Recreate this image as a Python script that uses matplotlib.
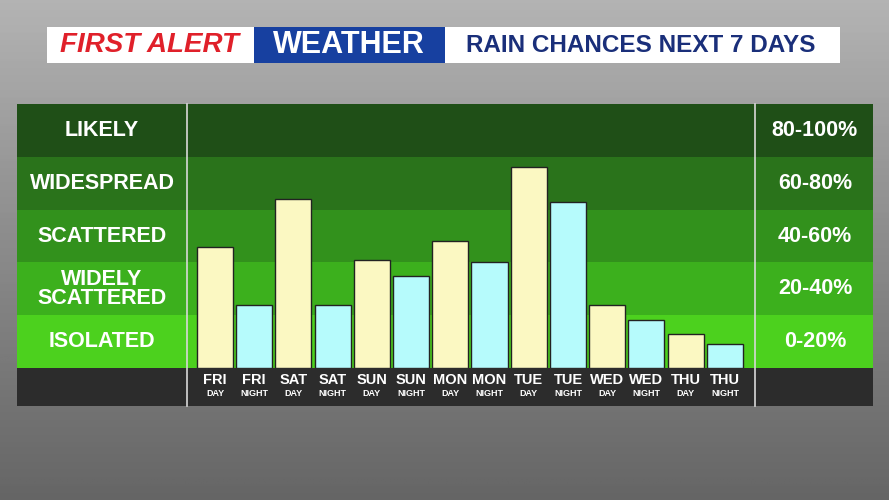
import matplotlib.pyplot as plt
import matplotlib.patches as patches
import numpy as np

plt.rcParams['font.family'] = ['Liberation Sans', 'DejaVu Sans']

days = ['FRI', 'FRI', 'SAT', 'SAT', 'SUN', 'SUN', 'MON', 'MON', 'TUE', 'TUE', 'WED', 'WED', 'THU', 'THU']
parts = ['DAY', 'NIGHT'] * 7
chances = [46, 24, 64, 24, 41, 35, 48, 40, 76, 63, 24, 18, 13, 9]
bands = ['ISOLATED', 'WIDELY\nSCATTERED', 'SCATTERED', 'WIDESPREAD', 'LIKELY']
ranges = ['0-20%', '20-40%', '40-60%', '60-80%', '80-100%']
band_colors = ['#4cd11e', '#3cb01d', '#32911c', '#2a731b', '#1f4f17']

W, H = 889, 500
fig = plt.figure(figsize=(W / 100, H / 100), dpi=100)

# background: blurred grey photo approximated with a gradient
bg = fig.add_axes([0, 0, 1, 1])
grad = np.linspace(0, 1, 200)[:, None] * np.ones((1, 300))
bg.imshow(grad, cmap='Greys', vmin=-1.5, vmax=2.2, extent=[0, W, H, 0], aspect='auto')
bg.set_xlim(0, W)
bg.set_ylim(H, 0)
bg.axis('off')

def px(x, y, w, h, **kw):
    bg.add_patch(patches.Rectangle((x, y), w, h, **kw))

# header
px(47, 27, 793, 36, facecolor='white')
px(254, 27, 191, 36, facecolor='#1740a0')
bg.text(150, 45, 'FIRST ALERT', color='#e0202a', fontsize=20, fontweight='bold', style='italic', ha='center', va='center')
bg.text(349, 45, 'WEATHER', color='white', fontsize=22, fontweight='bold', ha='center', va='center')
bg.text(641, 45, 'RAIN CHANCES NEXT 7 DAYS', color='#1a2f7a', fontsize=17.5, fontweight='bold', ha='center', va='center')

# panel
top, base = 104, 368
bh = (base - top) / 5
for i, c in enumerate(band_colors):
    y = base - (i + 1) * bh
    px(17, y, 856, bh, facecolor=c)
    bg.text(102, y + bh / 2, bands[i], color='white', fontsize=15.5, fontweight='bold',
            ha='center', va='center', linespacing=0.85)
    bg.text(815, y + bh / 2, ranges[i], color='white', fontsize=15.5, fontweight='bold',
            ha='center', va='center')
px(17, base, 856, 38, facecolor='#2c2c2c')
bg.plot([186.5, 186.5], [top, 406], color='#d8d8d8', lw=1.2)
bg.plot([754.5, 754.5], [top, 406], color='#d8d8d8', lw=1.2)

# bars
ax = fig.add_axes([187 / W, 1 - base / H, (753 - 187) / W, (base - top) / H])
ax.set_facecolor('none')
x = np.arange(len(chances))
colors = ['#fbf8c2' if p == 'DAY' else '#b6fbfc' for p in parts]
ax.bar(x, chances, width=0.92, color=colors, edgecolor='#222222', linewidth=1)
ax.set_xlim(-0.714, len(chances) - 1 + 0.72)
ax.set_ylim(0, 100)
ax.axis('off')
for i in x:
    xd = 215 + i * (725 - 215) / 13
    bg.text(xd, 380, days[i], color='white', fontsize=10.5, fontweight='bold', ha='center', va='center')
    bg.text(xd, 394, parts[i], color='white', fontsize=6.5, fontweight='bold', ha='center', va='center')

fig.savefig('out.png', dpi=100)
